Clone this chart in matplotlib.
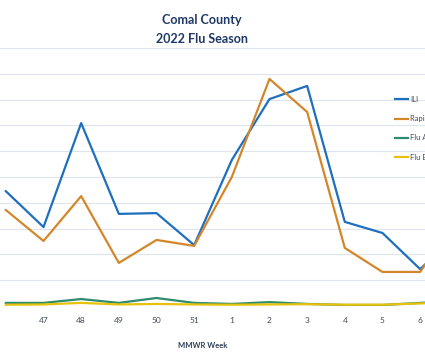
import matplotlib
matplotlib.use("Agg")
import matplotlib.pyplot as plt

plt.rcParams["font.family"] = ["Lato", "DejaVu Sans"]

weeks = ["46", "47", "48", "49", "50", "51", "1", "2", "3", "4", "5", "6", "7"]
ili = [4.45, 3.06, 7.09, 3.57, 3.60, 2.36, 5.66, 8.02, 8.53, 3.26, 2.83, 1.43, 2.8]
rapid = [3.72, 2.52, 4.26, 1.67, 2.56, 2.33, 5.00, 8.80, 7.52, 2.25, 1.32, 1.32, 3.4]
flu_a = [0.12, 0.12, 0.27, 0.12, 0.31, 0.12, 0.08, 0.15, 0.08, 0.04, 0.04, 0.12, 0.2]
flu_b = [0.05, 0.06, 0.12, 0.06, 0.08, 0.06, 0.05, 0.06, 0.07, 0.05, 0.05, 0.10, 0.15]
labels = ["ILI", "Rapid Flu Tests", "Flu A", "Flu B"]

fig = plt.figure(figsize=(4.25, 3.6), dpi=100)
fig.patch.set_facecolor("white")
ax = fig.add_axes([0, 54/360, 1, (306-48)/360])

x = list(range(len(weeks)))
ax.plot(x, ili, color="#1F6FBF", lw=1.6, label=labels[0])
ax.plot(x, rapid, color="#D4872A", lw=1.6, label=labels[1])
ax.plot(x, flu_a, color="#2E8B6E", lw=1.6, label=labels[2])
ax.plot(x, flu_b, color="#E8C20A", lw=1.6, label=labels[3])

ax.set_xticks(x[1:12])
ax.set_xticklabels(weeks[1:12], fontsize=6, color="#404a55")
ax.set_xlim(-6/38.7, 11 + 5/38.7)
ax.set_ylim(0, 10)
ax.set_yticks(range(0, 11))
ax.set_yticklabels([])
ax.grid(axis="y", color="#dde6ee", lw=0.8)
ax.set_axisbelow(True)
ax.tick_params(axis="both", length=0, pad=8)
for s in ax.spines.values():
    s.set_visible(False)

fig.text(0.476, 1 - 346/360, "MMWR Week", ha="center", va="center",
         fontsize=5.5, fontweight="bold", color="#2f3f55")
fig.text(0.476, 1 - 20/360, "Comal County", ha="center", va="center",
         fontsize=9, fontweight="bold", color="#1F3864")
fig.text(0.476, 1 - 39/360, "2022 Flu Season", ha="center", va="center",
         fontsize=9, fontweight="bold", color="#1F3864")

leg = ax.legend(loc="upper left", bbox_to_anchor=(395/425, 1 - 96/360),
                bbox_transform=fig.transFigure, frameon=False, fontsize=5.5,
                handlelength=1.7, handletextpad=0.3, labelspacing=1.6,
                borderpad=0, borderaxespad=0)
for t in leg.get_texts():
    t.set_color("#404a55")

fig.savefig("out.png", dpi=100)
